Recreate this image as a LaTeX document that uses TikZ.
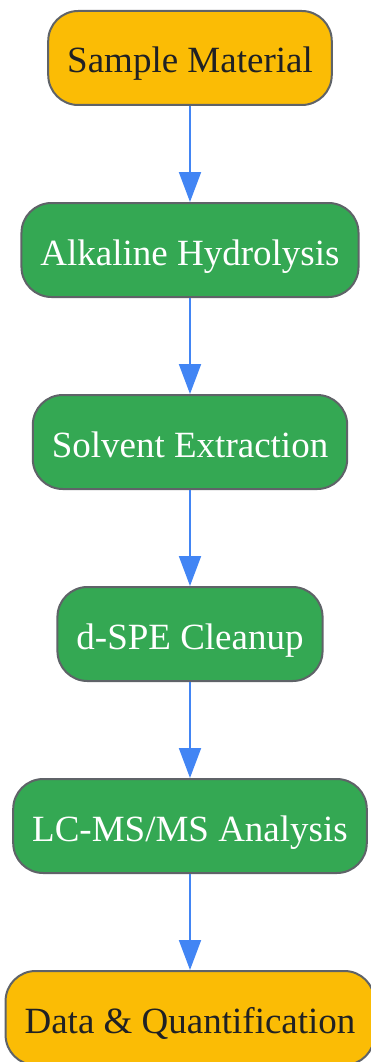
\documentclass[tikz,border=0pt]{standalone}
\usepackage{xcolor}
\usepackage{fontspec}
\setmainfont{Liberation Serif}
\usepackage{tikz}
\usetikzlibrary{positioning, shapes, arrows.meta}
\definecolor{stepyellow}{HTML}{FBBC05}
\definecolor{stepgreen}{HTML}{34A853}
\definecolor{stepborder}{HTML}{5F6368}
\definecolor{flowblue}{HTML}{4285F4}
\definecolor{darktext}{HTML}{202124}
\begin{document}
\begin{tikzpicture}[x=1pt, y=1pt,
		stepbox/.style={draw=stepborder, line width=2pt, rounded corners=30pt, minimum height=94pt, inner xsep=19pt, text height=37pt, text depth=7pt, font=\fontsize{37}{44}\selectfont},
		endbox/.style={stepbox, fill=stepyellow, text=darktext},
		workbox/.style={stepbox, fill=stepgreen, text=white},
		flow/.style={draw=flowblue, line width=2pt, -{Triangle[length=30pt, width=22pt]}}]
		\useasboundingbox (0,0) rectangle (370,-1062);
		\pgfmathsetmacro{\gap}{96}
		
		\node[endbox] (sample) at (190,-58) {Sample Material};
		\node[workbox, below=\gap pt of sample] (hydrolysis) {Alkaline Hydrolysis};
		\node[workbox, below=\gap pt of hydrolysis] (extraction) {Solvent Extraction};
		\node[workbox, below=\gap pt of extraction] (cleanup) {d-SPE Cleanup};
		\node[workbox, below=\gap pt of cleanup] (lcms) {LC-MS/MS Analysis};
		\node[endbox, below=\gap pt of lcms] (quant) {Data \& Quantification};
		
		\draw[flow] (sample) -- (hydrolysis);
		\draw[flow] (hydrolysis) -- (extraction);
		\draw[flow] (extraction) -- (cleanup);
		\draw[flow] (cleanup) -- (lcms);
		\draw[flow] (lcms) -- (quant);
\end{tikzpicture}
\end{document}
